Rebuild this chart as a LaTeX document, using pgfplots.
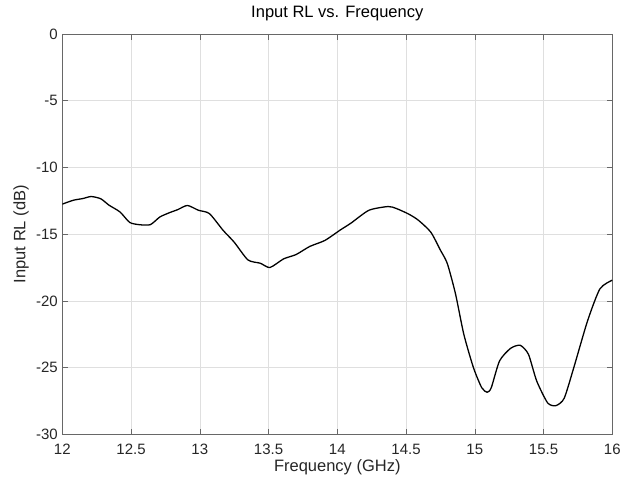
\documentclass[border=0pt]{standalone}
\usepackage{pgfplots}
\pgfplotsset{compat=1.18}
\usepackage{fontspec}
\setmainfont{Liberation Sans}
\definecolor{axgray}{RGB}{38,38,38}
\definecolor{gridgray}{RGB}{223,223,223}
\begin{document}
\begin{tikzpicture}
\useasboundingbox (-62.3bp,-48.7bp) rectangle (561.7bp,434.3bp);
\begin{axis}[
  at={(0,0)}, anchor=south west,
  width=550bp, height=400.3bp, scale only axis,
  xmin=12, xmax=16, ymin=-30, ymax=0,
  xtick={12,12.5,...,16},
  ytick={-30,-25,...,0},
  xticklabels={12,12.5,13,13.5,14,14.5,15,15.5,16},
  grid=major,
  major grid style={gridgray, line width=0.6pt},
  axis line style={axgray!70, line width=0.6pt},
  tick style={axgray!70, line width=0.6pt},
  tick align=inside,
  major tick length=5.5bp,
  tick label style={font=\fontsize{15bp}{17bp}\selectfont, text=axgray},
  xticklabel style={yshift=-6bp},
  yticklabel style={xshift=-1bp},
  label style={font=\fontsize{16.5bp}{18bp}\selectfont, text=axgray},
  title style={font=\fontsize{16.5bp}{18bp}\selectfont, text=black,
    at={(axis description cs:0.5,1.035)}, anchor=center},
  /pgf/number format/assume math mode=true,
  xlabel={Frequency (GHz)},
  ylabel={Input RL (dB)},
  title={Input RL vs. Frequency},
  xlabel style={at={(axis description cs:0.5,-0.0824)}, anchor=center},
  ylabel style={at={(axis description cs:-0.0751,0.5)}, anchor=center},
]
\addplot[black, line width=1.3pt, smooth, tension=0.4] coordinates {
(12.00,-12.75) (12.08,-12.46) (12.15,-12.33) (12.21,-12.18) (12.28,-12.35)
(12.34,-12.83) (12.42,-13.34) (12.49,-14.12) (12.56,-14.29) (12.64,-14.29)
(12.71,-13.71) (12.78,-13.39) (12.84,-13.16) (12.91,-12.85) (12.99,-13.21)
(13.07,-13.46) (13.17,-14.72) (13.25,-15.6) (13.35,-16.93) (13.44,-17.18)
(13.51,-17.50) (13.61,-16.85) (13.70,-16.53) (13.80,-15.92) (13.91,-15.47)
(14.02,-14.70) (14.10,-14.17) (14.23,-13.21) (14.37,-12.93) (14.43,-13.08)
(14.52,-13.5) (14.59,-13.96) (14.68,-14.85) (14.75,-16.2) (14.80,-17.2)
(14.86,-19.49) (14.92,-22.5) (14.99,-25.0) (15.05,-26.5) (15.09,-26.85)
(15.12,-26.5) (15.18,-24.5) (15.26,-23.56) (15.33,-23.33) (15.39,-24.0)
(15.45,-26.0) (15.53,-27.65) (15.59,-27.85) (15.65,-27.3) (15.72,-25.0)
(15.82,-21.5) (15.91,-19.1) (16.00,-18.45)
};
\end{axis}
\end{tikzpicture}
\end{document}
